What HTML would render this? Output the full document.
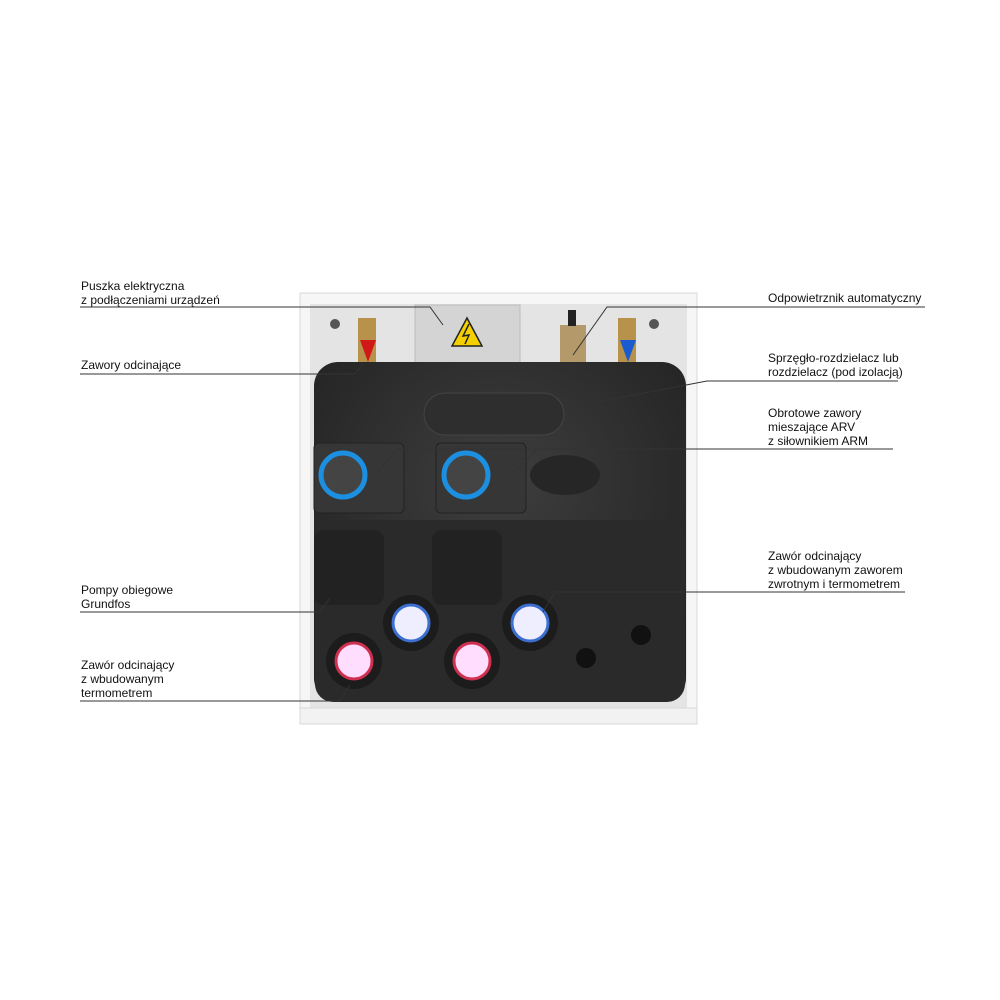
<!DOCTYPE html>
<html><head><meta charset="utf-8"><style>
body{margin:0;background:#fff;width:1000px;height:1000px;overflow:hidden;position:relative;font-family:"Liberation Sans",sans-serif}
.t{position:absolute;font-size:12px;line-height:14px;color:#111;white-space:nowrap}
svg{position:absolute;left:0;top:0}
</style></head><body>
<svg width="1000" height="1000" viewBox="0 0 1000 1000">
<defs>
<radialGradient id="g1" cx="50%" cy="35%" r="65%"><stop offset="0" stop-color="#3e3e3e"/><stop offset="1" stop-color="#232323"/></radialGradient>
</defs>
<rect x="300" y="293" width="397" height="431" fill="#f6f6f6" stroke="#d8d8d8"/>
<rect x="310" y="304" width="377" height="404" fill="#e4e4e4"/>
<rect x="300" y="708" width="397" height="16" fill="#f2f2f2" stroke="#d8d8d8"/>
<circle cx="335" cy="324" r="5" fill="#555"/><circle cx="654" cy="324" r="5" fill="#555"/>
<rect x="415" y="305" width="105" height="60" fill="#d4d4d4" stroke="#bbb"/>
<polygon points="467,318 452,346 482,346" fill="#f5d000" stroke="#222" stroke-width="1.5"/>
<path d="M469,324 L463,336 L469,335 L465,344" stroke="#222" stroke-width="1.5" fill="none"/>
<rect x="358" y="318" width="18" height="50" fill="#b8924a"/>
<rect x="618" y="318" width="18" height="50" fill="#b8924a"/>
<rect x="560" y="325" width="26" height="40" fill="#b49a6a"/>
<rect x="568" y="310" width="8" height="16" fill="#222"/>
<polygon points="360,340 376,340 368,362" fill="#d01818"/>
<polygon points="620,340 636,340 628,362" fill="#1a5bd0"/>
<rect x="314" y="362" width="372" height="340" rx="24" fill="url(#g1)"/>
<rect x="424" y="393" width="140" height="42" rx="21" fill="#2e2e2e" stroke="#444"/>
<rect x="315" y="520" width="370" height="182" rx="18" fill="#2a2a2a"/>
<rect x="314" y="443" width="90" height="70" rx="5" fill="#363636" stroke="#222"/>
<rect x="436" y="443" width="90" height="70" rx="5" fill="#363636" stroke="#222"/>
<circle cx="343" cy="475" r="22" fill="#444" stroke="#1d8fe0" stroke-width="5"/>
<circle cx="466" cy="475" r="22" fill="#444" stroke="#1d8fe0" stroke-width="5"/>
<ellipse cx="565" cy="475" rx="35" ry="20" fill="#262626"/>
<rect x="314" y="530" width="70" height="75" rx="10" fill="#222"/>
<rect x="432" y="530" width="70" height="75" rx="10" fill="#222"/>
<g stroke-width="3">
<circle cx="411" cy="623" r="28" fill="#1c1c1c"/><circle cx="411" cy="623" r="18" fill="#eef" stroke="#3a6fd0"/>
<circle cx="530" cy="623" r="28" fill="#1c1c1c"/><circle cx="530" cy="623" r="18" fill="#eef" stroke="#3a6fd0"/>
<circle cx="354" cy="661" r="28" fill="#1c1c1c"/><circle cx="354" cy="661" r="18" fill="#fdf" stroke="#d03050"/>
<circle cx="472" cy="661" r="28" fill="#1c1c1c"/><circle cx="472" cy="661" r="18" fill="#fdf" stroke="#d03050"/>
</g>
<circle cx="641" cy="635" r="10" fill="#111"/><circle cx="586" cy="658" r="10" fill="#111"/>
<g stroke="#333" stroke-width="1" fill="none">
<polyline points="80,307 430,307 443,325"/>
<polyline points="80,374 355,374 363,364"/>
<polyline points="80,612 320,612 330,598"/>
<polyline points="80,701 340,701 350,685"/>
<polyline points="925,307 607,307 573,355"/>
<polyline points="898,381 707,381 592,403"/>
<polyline points="893,449 397,449 378,472"/>
<polyline points="537,449 515,472"/>
<polyline points="905,592 555,592 543,612"/>
</g>
</svg>
<div class="t" style="left:81px;top:279px">Puszka elektryczna<br>z podłączeniami urządzeń</div>
<div class="t" style="left:81px;top:358px">Zawory odcinające</div>
<div class="t" style="left:81px;top:583px">Pompy obiegowe<br>Grundfos</div>
<div class="t" style="left:81px;top:658px">Zawór odcinający<br>z wbudowanym<br>termometrem</div>
<div class="t" style="left:768px;top:291px">Odpowietrznik automatyczny</div>
<div class="t" style="left:768px;top:351px">Sprzęgło-rozdzielacz lub<br>rozdzielacz (pod izolacją)</div>
<div class="t" style="left:768px;top:406px">Obrotowe zawory<br>mieszające ARV<br>z siłownikiem ARM</div>
<div class="t" style="left:768px;top:549px">Zawór odcinający<br>z wbudowanym zaworem<br>zwrotnym i termometrem</div>
</body></html>
